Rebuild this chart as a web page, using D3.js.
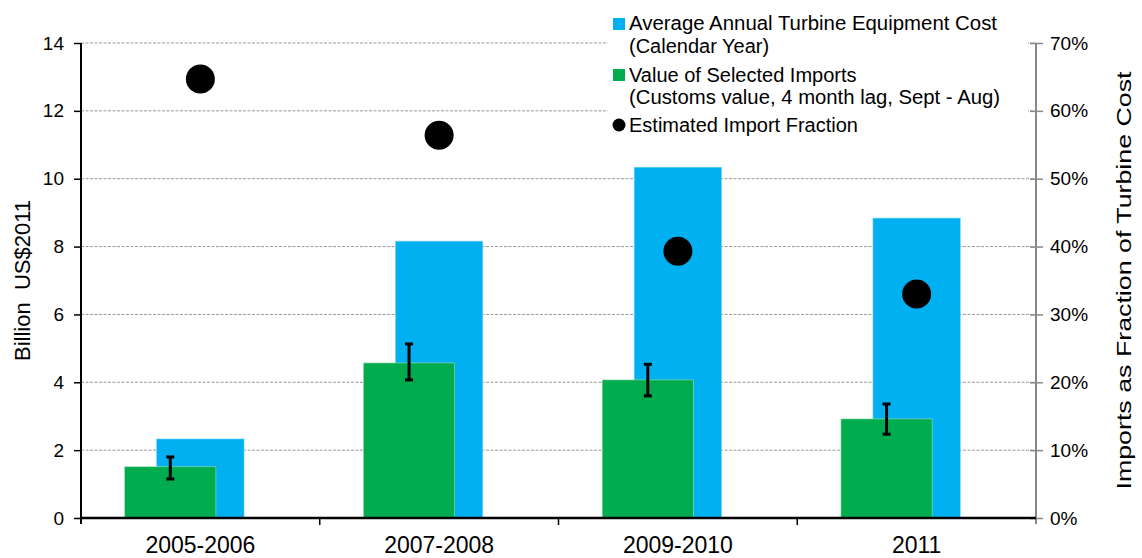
<!DOCTYPE html>
<html><head><meta charset="utf-8">
<script src="https://cdn.jsdelivr.net/npm/d3@7"></script>
<style>
body{margin:0;background:#fff;}
text{font-family:"Liberation Sans",Arial,sans-serif;fill:#000;}
</style></head>
<body><svg id="c" width="1142" height="558"></svg>
<script>
const categories = ["2005-2006","2007-2008","2009-2010","2011"];
const turbineCost = [2.33, 8.16, 10.34, 8.84];
const importsValue = [1.51, 4.57, 4.07, 2.92];
const importsLow = [1.15, 4.07, 3.60, 2.47];
const importsHigh = [1.80, 5.13, 4.53, 3.36];
const importFraction = [64.7, 56.4, 39.3, 33.0];
const leftTicks = [0,2,4,6,8,10,12,14];
const rightTicks = [0,10,20,30,40,50,60,70];

const svg = d3.select("#c");
const L = 81, R = 1036, T = 43, B = 518;
const x = d3.scaleBand().domain(categories).range([L, R]).padding(0);
const y = d3.scaleLinear().domain([0,14]).range([B, T]);
const y2 = d3.scaleLinear().domain([0,70]).range([B, T]);
const bw = x.bandwidth();

// gridlines
svg.append("g").selectAll("line").data(leftTicks.filter(d=>d>0)).join("line")
  .attr("x1", L).attr("x2", R).attr("y1", d=>y(d)).attr("y2", d=>y(d))
  .attr("stroke","#9a9a9a").attr("stroke-width",1).attr("stroke-dasharray","3,1.5");

// blue bars
svg.append("g").selectAll("rect").data(categories).join("rect")
  .attr("x", (d)=>x(d)+bw/2-0.183*bw).attr("width", 0.366*bw)
  .attr("y", (d,i)=>y(turbineCost[i])).attr("height",(d,i)=>B-y(turbineCost[i]))
  .attr("fill","#00B0F0").attr("stroke","#7fd6f6").attr("stroke-width",0.6);

// green bars
svg.append("g").selectAll("rect").data(categories).join("rect")
  .attr("x", (d)=>x(d)+bw/2-0.126*bw-0.191*bw).attr("width", 0.382*bw)
  .attr("y", (d,i)=>y(importsValue[i])).attr("height",(d,i)=>B-y(importsValue[i]))
  .attr("fill","#00AC4E").attr("stroke","#9fdcb8").attr("stroke-width",0.6);

// error bars
const eg = svg.append("g").attr("stroke","#000");
categories.forEach((c,i)=>{
  const cx = x(c)+bw/2-0.126*bw;
  eg.append("line").attr("x1",cx).attr("x2",cx).attr("y1",y(importsLow[i])).attr("y2",y(importsHigh[i])).attr("stroke-width",3);
  [importsLow[i], importsHigh[i]].forEach(v=>{
    eg.append("line").attr("x1",cx-4).attr("x2",cx+4).attr("y1",y(v)).attr("y2",y(v)).attr("stroke-width",3);
  });
});

// dots
svg.append("g").selectAll("circle").data(categories).join("circle")
  .attr("cx", d=>x(d)+bw/2).attr("cy",(d,i)=>y2(importFraction[i])).attr("r",14.5).attr("fill","#000");

// legend background
svg.append("rect").attr("x",608).attr("y",0).attr("width",420).attr("height",140).attr("fill","#fff");

// left axis
const la = svg.append("g").attr("transform",`translate(${L},0)`)
  .call(d3.axisLeft(y).tickValues(leftTicks).tickSize(7).tickPadding(10).tickFormat(d3.format("d")));
la.select(".domain").remove();
la.selectAll(".tick line").attr("stroke","#000").attr("stroke-width",1.5);
la.selectAll("text").style("font-size","19px").style("font-family","Liberation Sans, Arial, sans-serif");
svg.append("line").attr("x1",L).attr("x2",L).attr("y1",T).attr("y2",B+6).attr("stroke","#000").attr("stroke-width",2);

// right axis
const ra = svg.append("g").attr("transform",`translate(${R},0)`)
  .call(d3.axisRight(y2).tickValues(rightTicks).tickSize(7).tickPadding(7).tickFormat(d=>d+"%"));
ra.select(".domain").remove();
ra.selectAll(".tick line").attr("stroke","#888").attr("stroke-width",1.5).attr("x1",-6);
ra.selectAll("text").style("font-size","19px").style("font-family","Liberation Sans, Arial, sans-serif");
svg.append("line").attr("x1",R).attr("x2",R).attr("y1",T).attr("y2",B+6).attr("stroke","#888").attr("stroke-width",2);

// x axis
const xa = svg.append("g").attr("transform",`translate(0,${B})`)
  .call(d3.axisBottom(x).tickSize(0).tickPadding(0));
xa.select(".domain").remove();
xa.selectAll("text").attr("dy",null).attr("y",35).style("font-size","23px").style("font-family","Liberation Sans, Arial, sans-serif");
svg.append("line").attr("x1",L).attr("x2",R).attr("y1",B).attr("y2",B).attr("stroke","#000").attr("stroke-width",2.5);
svg.append("g").selectAll("line").data(categories.slice(1)).join("line")
  .attr("x1",d=>x(d)).attr("x2",d=>x(d)).attr("y1",B).attr("y2",B+7).attr("stroke","#000").attr("stroke-width",1.5);

// axis titles
svg.append("text").attr("transform",`translate(30,${(T+B)/2}) rotate(-90)`).attr("text-anchor","middle")
  .style("font-size","22px").style("white-space","pre").text("Billion  US$2011");
svg.append("text").attr("transform",`translate(1131,${(T+B)/2}) rotate(-90)`).attr("text-anchor","middle")
  .attr("textLength",418).attr("lengthAdjust","spacingAndGlyphs")
  .style("font-size","20px").text("Imports as Fraction of Turbine Cost");

// legend
const lg = svg.append("g");
lg.append("rect").attr("x",613).attr("y",18).attr("width",12).attr("height",12).attr("fill","#00B0F0");
lg.append("rect").attr("x",613).attr("y",69).attr("width",12).attr("height",12).attr("fill","#00AC4E");
lg.append("circle").attr("cx",619).attr("cy",125).attr("r",6.5).attr("fill","#000");
const legLines = [
  ["Average Annual Turbine Equipment Cost", 30, 368],
  ["(Calendar Year)", 53, null],
  ["Value of Selected Imports", 82, null],
  ["(Customs value, 4 month lag, Sept - Aug)", 104, 371],
  ["Estimated Import Fraction", 132, null]
];
legLines.forEach(([t,yy,len])=>{
  const tx = lg.append("text").attr("x",629).attr("y",yy).style("font-size","20px").text(t);
  if(len) tx.attr("textLength",len).attr("lengthAdjust","spacingAndGlyphs");
});
</script></body></html>
